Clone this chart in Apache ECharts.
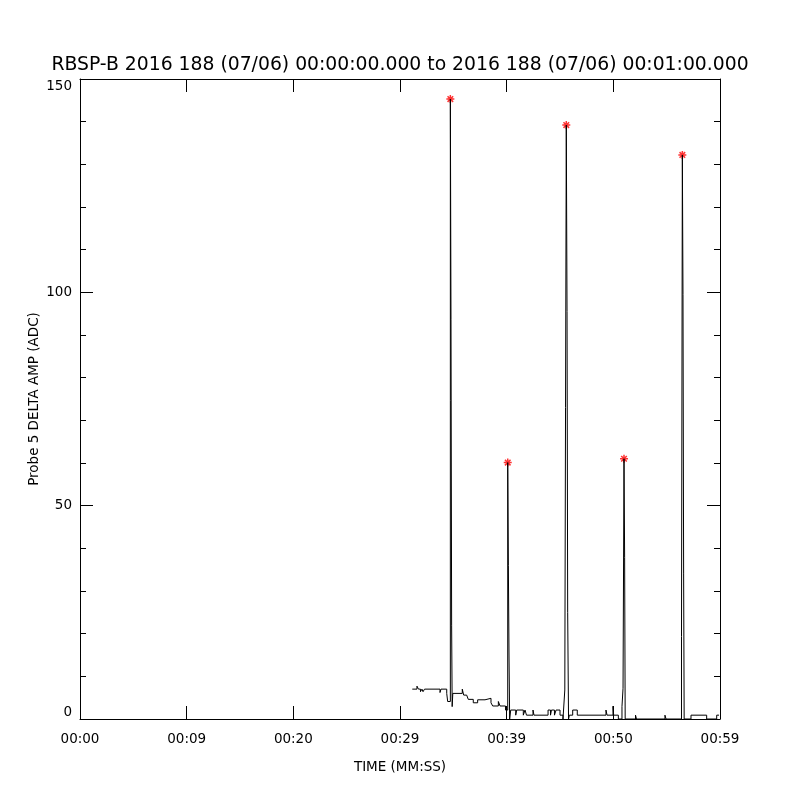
<!DOCTYPE html>
<html>
<head>
<meta charset="utf-8">
<script src="https://cdn.jsdelivr.net/npm/echarts@6/dist/echarts.min.js"></script>
<style>
html,body{margin:0;padding:0;background:#fff;}
#chart{width:800px;height:800px;}
</style>
</head>
<body>
<div id="chart"></div>
<script>
// Sample times (seconds after 00:00:00) and amplitudes (ADC)
const sampleTimes = [31.15,31.59,31.73,31.92,32.06,32.16,32.30,33.75,33.84,34.38,34.47,34.72,34.78,34.84,34.89,34.95,
  35.84,35.97,36.25,36.40,36.87,37.28,37.97,38.53,38.69,39.22,39.38,39.89,40.10,40.16,40.22,40.28,40.38,40.85,40.94,
  41.56,41.72,41.86,42.47,42.56,43.88,44.11,44.20,44.48,44.63,45.00,45.28,45.45,45.59,45.66,45.72,45.80,45.88,46.19,
  46.62,49.31,49.41,49.97,50.03,50.47,50.81,50.91,51.00,51.06,51.11,52.08,52.17,54.84,54.94,56.39,56.47,56.53,56.59,
  56.64,57.28,58.75,59.69,59.91];
const sampleAmps = [7.0,7.7,7.0,6.4,7.0,6.4,7.0,6.2,7.0,6.0,4.1,145.3,93.7,22,2.9,6.0,
  7.0,5.6,5.2,4.6,3.8,4.5,4.85,3.8,3.05,4.1,3.05,2.1,60.1,36,15,0,2.1,0.9,2.1,
  0.9,2.1,0.9,2.1,0.9,2.1,0.9,2.1,0.9,2.1,0.9,0,6.8,139.2,95.5,25,0,0.9,2.1,
  0.9,2.1,0.9,3.0,0.9,0,2.9,7.2,61.0,37.8,0,0.9,0,0.9,0,19.3,132.2,99.5,34,
  0,0.9,0,0.9,0.9];
// Peak markers
const peakTimes = [34.72, 40.10, 45.59, 51.00, 56.47];
const peakAmps = [145.3, 60.1, 139.2, 61.0, 132.2];
// Tick labels
const xTickLabels = ['00:00','00:09','00:20','00:29','00:39','00:50','00:59'];

const titleText = 'RBSP-B 2016 188 (07/06) 00:00:00.000 to 2016 188 (07/06) 00:01:00.000';
const FONT = 'DejaVu Sans';

const lineData = sampleTimes.map((t, i) => [t, sampleAmps[i]]);
const peakData = peakTimes.map((t, i) => [t, peakAmps[i]]);

const chart = echarts.init(document.getElementById('chart'), null, {renderer: 'canvas'});
const axisLineOn = {show: true, onZero: false, lineStyle: {color: '#000', width: 1}};
const axisLineOff = {show: false, onZero: false};
const majorTick = {show: true, inside: true, length: 13, lineStyle: {color: '#000', width: 1}};
const minorTickAx = {show: true, inside: true, length: 6, lineStyle: {color: '#000', width: 1}};
const noSplit = {show: false};
function yTickAxis(pos) {
  return {type: 'value', min: 0, max: 150, interval: 10, position: pos,
    axisLine: axisLineOff, axisTick: minorTickAx, axisLabel: {show: false}, splitLine: noSplit};
}
chart.setOption({
  animation: false,
  backgroundColor: '#fff',
  title: {
    text: titleText,
    left: 'center',
    top: 51,
    textStyle: {fontFamily: FONT, fontSize: 18.8, fontWeight: 'normal', color: '#000'}
  },
  grid: {left: 80, right: 80, top: 79, bottom: 81, containLabel: false},
  xAxis: [{
    type: 'value', min: 0, max: 60, interval: 10, position: 'bottom',
    name: 'TIME (MM:SS)', nameLocation: 'middle', nameGap: 41, nameMoveOverlap: false,
    nameTextStyle: {fontFamily: FONT, fontSize: 13.5, color: '#000'},
    axisLine: axisLineOn, axisTick: majorTick, splitLine: noSplit,
    axisLabel: {fontFamily: FONT, fontSize: 13.5, color: '#000', margin: 13,
      formatter: v => xTickLabels[Math.round(v / 10)]}
  }, {
    type: 'value', min: 0, max: 60, interval: 10, position: 'top',
    axisLine: axisLineOn, axisTick: majorTick, splitLine: noSplit,
    axisLabel: {show: false}
  }],
  yAxis: [{
    type: 'value', min: 0, max: 150, interval: 50, position: 'left',
    name: 'Probe 5 DELTA AMP (ADC)', nameLocation: 'middle', nameGap: 39, nameMoveOverlap: false,
    nameTextStyle: {fontFamily: FONT, fontSize: 13.5, color: '#000'},
    axisLine: axisLineOn, axisTick: majorTick, splitLine: noSplit,
    axisLabel: {fontFamily: FONT, fontSize: 13.5, color: '#000', margin: 8,
      verticalAlignMinLabel: 'bottom', verticalAlignMaxLabel: 'top'}
  }, {
    type: 'value', min: 0, max: 150, interval: 50, position: 'right',
    axisLine: axisLineOn, axisTick: majorTick, splitLine: noSplit,
    axisLabel: {show: false}
  }, yTickAxis('left'), yTickAxis('right')],
  series: [{
    type: 'line',
    data: lineData,
    xAxisIndex: 0, yAxisIndex: 0,
    step: 'end',
    showSymbol: false,
    symbol: 'none',
    lineStyle: {color: '#000', width: 1},
    silent: true
  }, {
    type: 'scatter',
    data: peakData,
    xAxisIndex: 0, yAxisIndex: 0,
    symbol: 'path://M0,5L10,5M5,0L5,10M1.5,1.5L8.5,8.5M8.5,1.5L1.5,8.5',
    symbolSize: 8,
    itemStyle: {color: 'rgba(0,0,0,0)', borderColor: '#ff0000', borderWidth: 1.5},
    silent: true
  }]
});
</script>
</body>
</html>
